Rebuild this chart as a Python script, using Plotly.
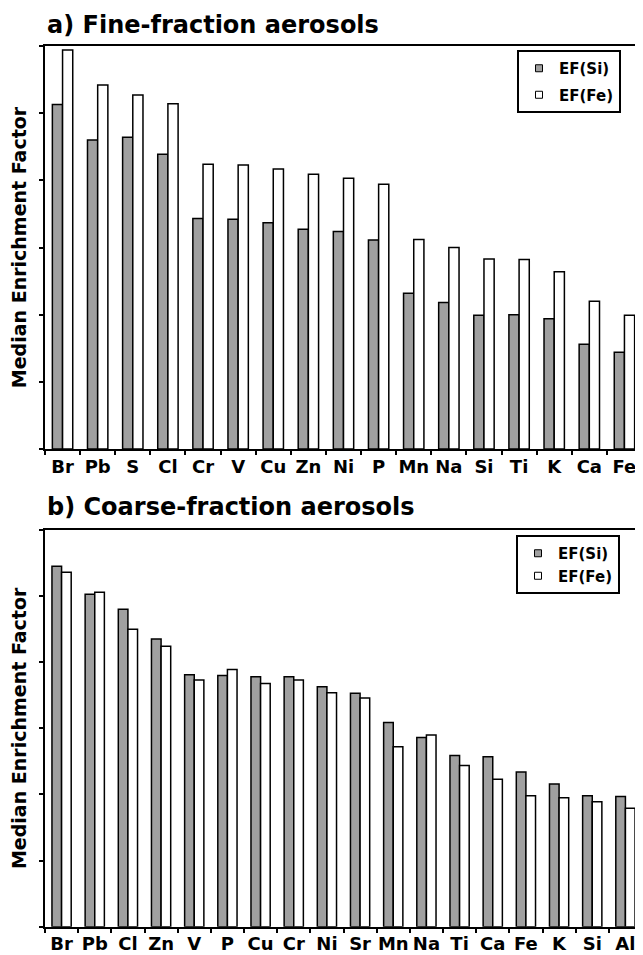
import plotly.graph_objects as go

# ---- data (y in axis units, labels hidden) ----
fine_elements = ["Br", "Pb", "S", "Cl", "Cr", "V", "Cu", "Zn", "Ni", "P",
                 "Mn", "Na", "Si", "Ti", "K", "Ca", "Fe"]
fine_ef_si = [5.13, 4.60, 4.64, 4.39, 3.43, 3.42, 3.37, 3.27, 3.24, 3.11,
              2.32, 2.18, 1.99, 2.00, 1.94, 1.56, 1.44]
fine_ef_fe = [5.94, 5.42, 5.27, 5.14, 4.24, 4.23, 4.17, 4.09, 4.03, 3.94,
              3.12, 3.00, 2.83, 2.82, 2.64, 2.20, 1.99]

coarse_elements = ["Br", "Pb", "Cl", "Zn", "V", "P", "Cu", "Cr", "Ni", "Sr",
                   "Mn", "Na", "Ti", "Ca", "Fe", "K", "Si", "Al"]
coarse_ef_si = [5.45, 5.03, 4.80, 4.35, 3.81, 3.80, 3.78, 3.78, 3.63, 3.53,
                3.09, 2.86, 2.59, 2.57, 2.34, 2.16, 1.98, 1.97]
coarse_ef_fe = [5.36, 5.06, 4.50, 4.24, 3.73, 3.89, 3.68, 3.73, 3.54, 3.46,
                2.72, 2.90, 2.44, 2.23, 1.98, 1.95, 1.89, 1.79]

series_names = ["EF(Si)", "EF(Fe)"]
panel_titles = ["a) Fine-fraction aerosols", "b) Coarse-fraction aerosols"]
y_title = "Median Enrichment Factor"

GREY = "#a0a0a0"
FONT = "DejaVu Sans"

# the page body adds an 8px margin; size the figure so it fills the window
OFF = 8
W, H = 643 - OFF, 955 - OFF

fig = go.Figure()

panels = [
    (fine_elements, fine_ef_si, fine_ef_fe, "x", "y", "legend"),
    (coarse_elements, coarse_ef_si, coarse_ef_fe, "x2", "y2", "legend2"),
]
for elems, si, fe, xa, ya, lg in panels:
    for name, vals, col in ((series_names[0], si, GREY), (series_names[1], fe, "white")):
        fig.add_trace(go.Bar(
            x=elems, y=vals, name=name, xaxis=xa, yaxis=ya,
            marker=dict(color=col, line=dict(color="black", width=1.5)),
            showlegend=False,
        ))
    # legend entries with small square symbols
    for i, (name, col) in enumerate(((series_names[0], GREY), (series_names[1], "white"))):
        fig.add_trace(go.Scatter(
            x=[None], y=[None], mode="markers", name=name, xaxis=xa, yaxis=ya,
            marker=dict(symbol="square", size=7, color=col,
                        line=dict(color="black", width=1)),
            legend=lg, legendgroup=lg + str(i),
        ))

def py(p):
    """page pixel (from top) -> paper y"""
    return 1 - (p - OFF) / H

L = 45 - OFF
R = 1
pw = W - L - R

def px(p):
    """page pixel (from left) -> paper x"""
    return (p - OFF - L) / pw

xcommon = dict(
    type="category", showline=True, linecolor="black", linewidth=2, mirror=True,
    ticks="outside", ticklen=4, tickwidth=1.5, tickcolor="black", tickson="boundaries",
    tickangle=0, automargin=False,
    tickfont=dict(family=FONT, size=18, color="black", weight="bold"),
    showgrid=False, zeroline=False,
)
ycommon = dict(
    range=[0, 6], dtick=1, showticklabels=False, showline=True, linecolor="black",
    linewidth=2, mirror=True, ticks="outside", ticklen=4, tickwidth=1.5,
    tickcolor="black", showgrid=False, zeroline=False, automargin=False,
    title=dict(text=y_title, standoff=10,
               font=dict(family=FONT, size=19, color="black", weight="bold")),
)

fig.update_layout(
    width=W, height=H,
    margin=dict(l=L, r=R, t=0, b=0, autoexpand=False),
    paper_bgcolor="white", plot_bgcolor="white",
    barmode="group", bargap=0.42, bargroupgap=0,
    xaxis=dict(xcommon, domain=[0, 1], anchor="y"),
    yaxis=dict(ycommon, domain=[py(449), py(46)], anchor="x"),
    xaxis2=dict(xcommon, domain=[0, 1], anchor="y2"),
    yaxis2=dict(ycommon, domain=[py(926.7), py(530)], anchor="x2"),
    legend=dict(x=px(621), xanchor="right", y=py(50), yanchor="top",
                bgcolor="white", bordercolor="black", borderwidth=2,
                tracegroupgap=4,
                font=dict(family=FONT, size=15, color="black", weight="bold")),
    legend2=dict(x=px(620), xanchor="right", y=py(535), yanchor="top",
                 bgcolor="white", bordercolor="black", borderwidth=2,
                 tracegroupgap=0,
                 font=dict(family=FONT, size=15, color="black", weight="bold")),
    annotations=[
        dict(text=panel_titles[0], xref="paper", yref="paper", x=0, y=py(25),
             xanchor="left", yanchor="middle", showarrow=False,
             font=dict(family=FONT, size=24, color="black", weight="bold")),
        dict(text=panel_titles[1], xref="paper", yref="paper", x=0, y=py(506.7),
             xanchor="left", yanchor="middle", showarrow=False,
             font=dict(family=FONT, size=24, color="black", weight="bold")),
    ],
)

fig.write_html("out.html")
